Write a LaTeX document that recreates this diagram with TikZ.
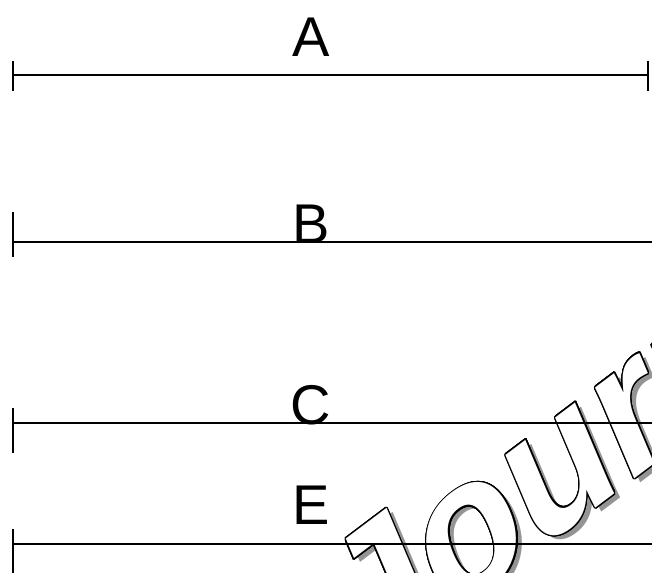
\documentclass[tikz,border=0pt]{standalone}
\usepackage{fontspec}
\setmainfont{Liberation Sans}
\usepackage{contour}
\contourlength{1.3pt}
\contournumber{24}
\begin{document}
\begin{tikzpicture}[x=1pt,y=-1pt,
  lbl/.style={font=\fontsize{56}{60}\selectfont, anchor=base, inner sep=0pt},
  wmtext/.style={anchor=base west, inner sep=0pt, font=\fontsize{182}{182}\selectfont\bfseries},
  rule/.style={line width=1.6pt},
  tick/.style={line width=1.8pt}]
\useasboundingbox (0,0) rectangle (652,572);
% watermark
\begin{scope}
\clip (0,0) rectangle (652,572);
\begin{scope}[shift={(372,685)}, x=1pt, y=1pt, rotate=37, xslant=0.25, transform shape]
\node[wmtext, text=black!42] (wms) at (0,0) {Journal};
\end{scope}
\begin{scope}[shift={(366,681)}, x=1pt, y=1pt, rotate=37, xslant=0.25, transform shape]
\node[wmtext] (wm) at (0,0) {\color{white}\contour{black}{Journal}};
\end{scope}
\end{scope}
% A
\coordinate (a1) at (13,75); \coordinate (a2) at (648,75);
\coordinate (a1t) at (13,61); \coordinate (a1b) at (13,91);
\coordinate (a2t) at (648,61); \coordinate (a2b) at (648,91);
\draw[rule] (a1) -- (a2);
\draw[tick] (a1t) -- (a1b);
\draw[tick] (a2t) -- (a2b);
\node[lbl] (la) at (311,57) {A};
% B
\coordinate (b1) at (13,242); \coordinate (b2) at (660,242);
\coordinate (b1t) at (13,212); \coordinate (b1b) at (13,257);
\draw[rule] (b1) -- (b2);
\draw[tick] (b1t) -- (b1b);
\node[lbl] (lb) at (311,243) {B};
% C
\coordinate (c1) at (13,423); \coordinate (c2) at (660,423);
\coordinate (c1t) at (13,408); \coordinate (c1b) at (13,453);
\draw[rule] (c1) -- (c2);
\draw[tick] (c1t) -- (c1b);
\node[lbl] (lc) at (311,424) {C};
% E
\coordinate (e1) at (13,544); \coordinate (e2) at (660,544);
\coordinate (e1t) at (13,529); \coordinate (e1b) at (13,575);
\draw[rule] (e1) -- (e2);
\draw[tick] (e1t) -- (e1b);
\node[lbl] (le) at (311,524) {E};
\end{tikzpicture}
\end{document}
